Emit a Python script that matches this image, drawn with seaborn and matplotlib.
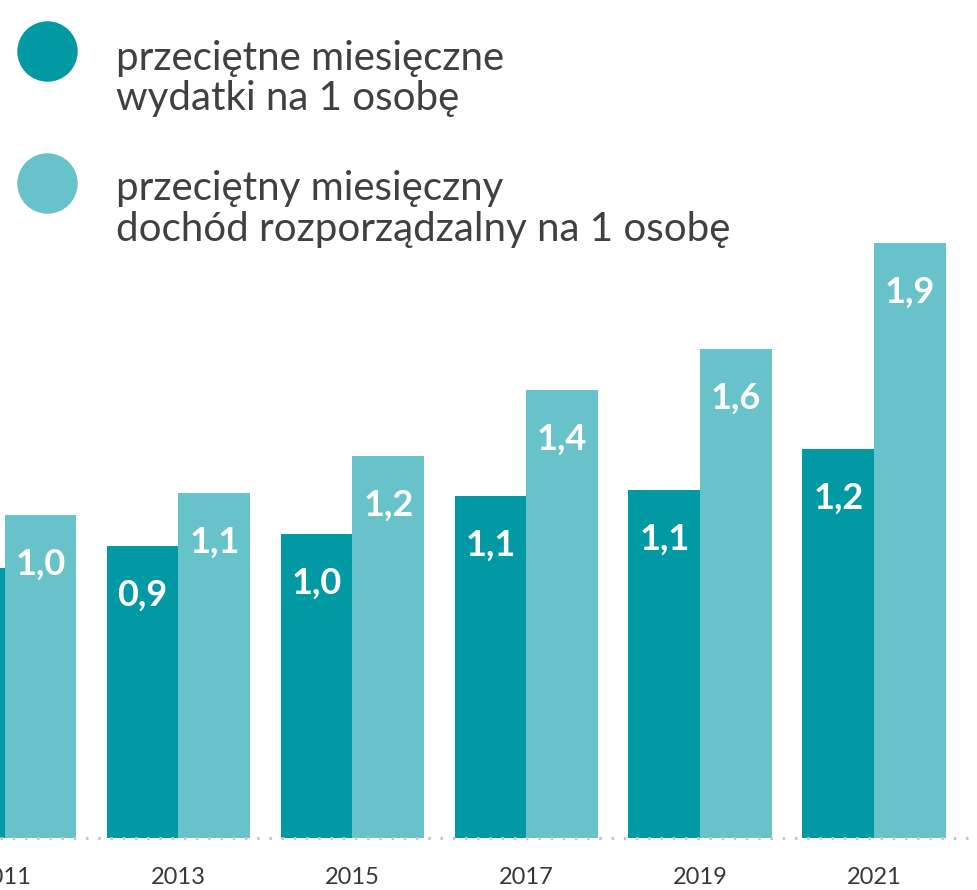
import matplotlib
matplotlib.use("Agg")
import matplotlib.pyplot as plt
from matplotlib.lines import Line2D
import seaborn as sns
import pandas as pd

years = ["2011", "2013", "2015", "2017", "2019", "2021"]
wydatki = [0.86, 0.93, 0.97, 1.09, 1.11, 1.24]
dochod = [1.03, 1.10, 1.22, 1.43, 1.56, 1.90]
series_names = ["przeciętne miesięczne\nwydatki na 1 osobę",
                "przeciętny miesięczny\ndochód rozporządzalny na 1 osobę"]
colors = ["#0099A4", "#67C2CA"]

df = pd.DataFrame({
    "year": years * 2,
    "value": wydatki + dochod,
    "series": [series_names[0]] * len(years) + [series_names[1]] * len(years),
})

sns.set_theme(style="white")
plt.rcParams["font.family"] = ["Lato", "DejaVu Sans"]

W, H = 978, 890
fig = plt.figure(figsize=(W / 100, H / 100), dpi=100)
base_px = 837.5
ax = fig.add_axes([0, (H - base_px) / H, 1, base_px / H])

sns.barplot(data=df, x="year", y="value", hue="series", palette=colors,
            width=0.825, gap=0, saturation=1, legend=False, linewidth=0, ax=ax)

ax.set_ylim(0, base_px / 313)
ax.set_xlim(-0.026, 5.597)
for s in ax.spines.values():
    s.set_visible(False)
ax.set_yticks([])
ax.set_xlabel("")
ax.set_ylabel("")
ax.tick_params(axis="x", length=0, pad=21, labelsize=17, labelcolor="#383838")
for lbl in ax.get_xticklabels():
    lbl.set_fontweight("normal")

ax.axhline(0, color="#c4c4c4", lw=2.2, linestyle=(0, (0.8, 3.2)), clip_on=False, zorder=5)

for cont in ax.containers:
    for patch in cont.patches:
        h = patch.get_height()
        x = patch.get_x() + patch.get_width() / 2
        ax.annotate(f"{h:.1f}".replace(".", ","), (x, h), xytext=(0, -35.5),
                    textcoords="offset points", ha="center", va="center",
                    color="white", fontsize=26, fontweight="bold")

# legend
circle_y = [51, 183]
line_base = [[70, 110], [200, 241]]
for i, name in enumerate(series_names):
    fig.add_artist(Line2D([47 / W], [1 - circle_y[i] / H], marker="o", markersize=42.5,
                          color=colors[i], linestyle="none", transform=fig.transFigure))
    for j, line in enumerate(name.split("\n")):
        fig.text(116 / W, 1 - line_base[i][j] / H, line, ha="left", va="baseline",
                 fontsize=29, fontweight="normal", color="#404040")

fig.savefig("out.png", dpi=100)
